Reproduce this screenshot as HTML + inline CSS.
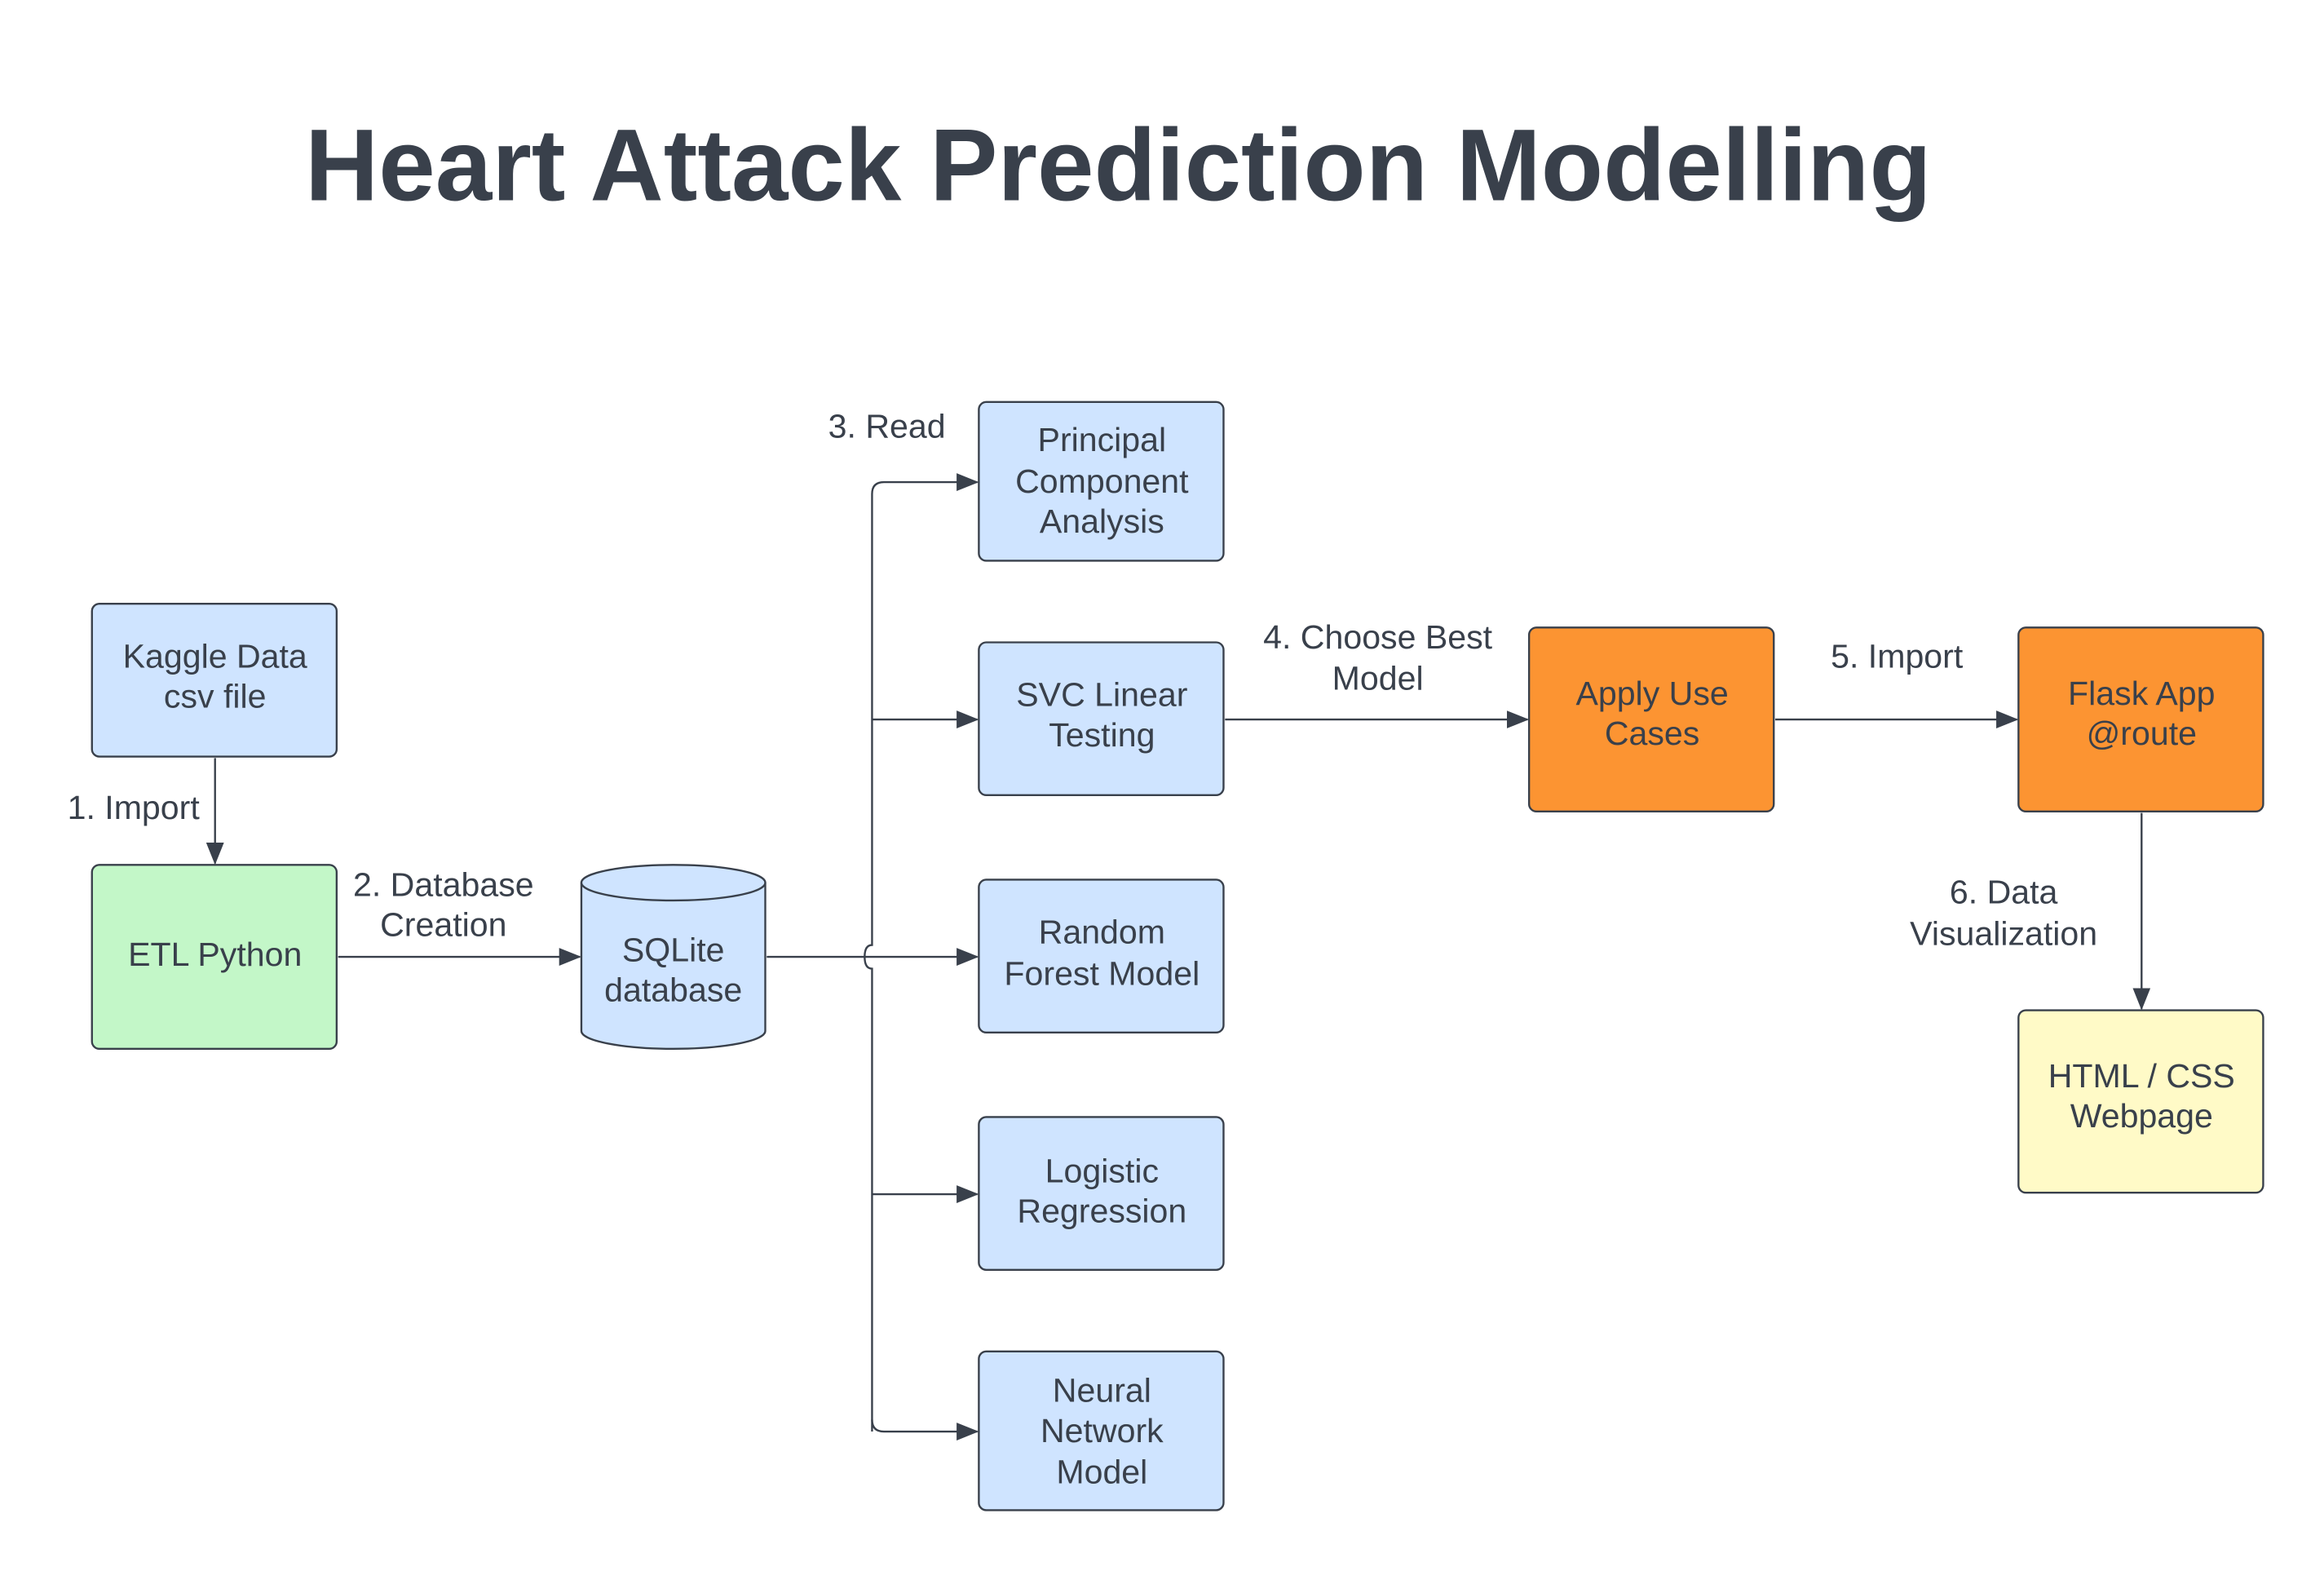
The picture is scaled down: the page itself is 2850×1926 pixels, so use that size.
<!DOCTYPE html>
<html><head><meta charset="utf-8"><style>
html,body{margin:0;padding:0;background:#fff;}
svg{display:block;}
text{font-family:"Liberation Sans",sans-serif;fill:#39404b;}
</style></head><body>
<svg width="2850" height="1926" viewBox="0 0 1567 1059" preserveAspectRatio="none" xmlns="http://www.w3.org/2000/svg">
<defs>
<marker id="a" markerWidth="15" markerHeight="12" refX="14" refY="6" orient="auto" markerUnits="userSpaceOnUse">
<path d="M0,0 L15,6 L0,12 Z" fill="#39404b"/>
</marker>
</defs>
<text x="754" y="135" font-size="68.7" font-weight="bold" text-anchor="middle">Heart Attack Prediction Modelling</text>

<g stroke="#39404b" stroke-width="1.3">
<rect x="62" y="407" width="165" height="103" rx="5" fill="#cfe4ff"/>
<rect x="62" y="583" width="165" height="124" rx="5" fill="#c3f7c8"/>
<rect x="660" y="271" width="165" height="107" rx="5" fill="#cfe4ff"/>
<rect x="660" y="433" width="165" height="103" rx="5" fill="#cfe4ff"/>
<rect x="660" y="593" width="165" height="103" rx="5" fill="#cfe4ff"/>
<rect x="660" y="753" width="165" height="103" rx="5" fill="#cfe4ff"/>
<rect x="660" y="911" width="165" height="107" rx="5" fill="#cfe4ff"/>
<rect x="1031" y="423" width="165" height="124" rx="5" fill="#fc9432"/>
<rect x="1361" y="423" width="165" height="124" rx="5" fill="#fc9432"/>
<rect x="1361" y="681" width="165" height="123" rx="5" fill="#fffac7"/>
<path d="M392,595 L392,695 A62,12 0 0 0 516,695 L516,595" fill="#cfe4ff"/>
<ellipse cx="454" cy="595" rx="62" ry="12" fill="#cfe4ff"/>
</g>

<g stroke="#39404b" stroke-width="1.3" fill="none">
<path d="M145,511 L145,582" marker-end="url(#a)"/>
<path d="M228,645 L391,645" marker-end="url(#a)"/>
<path d="M517,645 L659,645" marker-end="url(#a)"/>
<path d="M588,965 L588,653 Q583,653 583,645 Q583,637 588,637 L588,333 Q588,325 596,325 L659,325" marker-end="url(#a)"/>
<path d="M588,957 Q588,965 596,965 L659,965" marker-end="url(#a)"/>
<path d="M588,485 L659,485" marker-end="url(#a)"/>
<path d="M588,805 L659,805" marker-end="url(#a)"/>
<path d="M826,485 L1030,485" marker-end="url(#a)"/>
<path d="M1197,485 L1360,485" marker-end="url(#a)"/>
<path d="M1444,548 L1444,680" marker-end="url(#a)"/>
</g>

<g font-size="22.6" text-anchor="middle">
<text x="145" y="450">Kaggle Data</text><text x="145" y="477">csv file</text>
<text x="145" y="651">ETL Python</text>
<text x="454" y="648">SQLite</text><text x="454" y="675">database</text>
<text x="743" y="304">Principal</text><text x="743" y="332">Component</text><text x="743" y="359">Analysis</text>
<text x="743" y="476">SVC Linear</text><text x="743" y="503">Testing</text>
<text x="743" y="636">Random</text><text x="743" y="664">Forest Model</text>
<text x="743" y="797">Logistic</text><text x="743" y="824">Regression</text>
<text x="743" y="945">Neural</text><text x="743" y="972">Network</text><text x="743" y="1000">Model</text>
<text x="1114" y="475">Apply Use</text><text x="1114" y="502">Cases</text>
<text x="1444" y="475">Flask App</text><text x="1444" y="502">@route</text>
<text x="1444" y="733">HTML / CSS</text><text x="1444" y="760">Webpage</text>

<text x="90" y="552">1. Import</text>
<text x="299" y="604">2. Database</text><text x="299" y="631">Creation</text>
<text x="598" y="295">3. Read</text>
<text x="929" y="437">4. Choose Best</text><text x="929" y="465">Model</text>
<text x="1279" y="450">5. Import</text>
<text x="1351" y="609">6. Data</text><text x="1351" y="637">Visualization</text>
</g>
</svg>
</body></html>
